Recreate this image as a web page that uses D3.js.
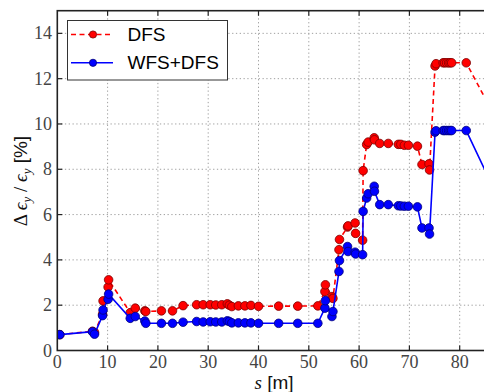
<!DOCTYPE html>
<html>
<head>
<meta charset="utf-8">
<script src="https://cdn.jsdelivr.net/npm/d3@7"></script>
<style>
  body { margin: 0; background: #fff; }
  svg { display: block; }
</style>
</head>
<body>
<div class="container"></div>
<script>
// positions along the line [m]
const sPos = [0.5, 7.0, 7.4, 9.0, 9.1, 10.1, 10.2, 14.5, 15.5, 17.4, 17.6, 20.7, 22.9, 25.0,
  27.7, 29.0, 30.4, 31.5, 32.7, 33.8, 34.2, 34.7, 36.0, 37.3, 38.5, 40.0, 44.0, 47.8, 51.8,
  53.2, 53.3, 54.6, 54.8, 56.0, 56.1, 57.7, 57.8, 59.2, 59.3, 60.7, 60.8, 61.5, 61.8, 63.0, 63.05,
  64.1, 65.8, 67.8, 68.3, 69.0, 69.8, 71.6, 72.5, 73.9, 74.0, 75.1, 75.3, 76.7, 77.0, 77.4,
  77.8, 78.1, 78.4, 81.3, 88.0];
const dfs = [0.70, 0.85, 0.80, 1.60, 2.19, 2.80, 3.12, 1.67, 1.87, 1.75, 1.72, 1.75, 1.75, 1.98,
  2.02, 2.02, 2.02, 2.01, 2.02, 2.06, 2.00, 1.94, 1.97, 1.97, 1.99, 1.95, 1.96, 1.96, 1.97,
  2.60, 2.90, 2.38, 2.30, 4.45, 4.90, 5.45, 5.50, 5.63, 5.17, 4.87, 7.94, 9.09, 9.20, 9.39, 9.30,
  9.14, 9.14, 9.10, 9.10, 9.06, 9.06, 9.02, 8.21, 8.24, 7.97, 12.56, 12.66, 12.70, 12.70, 12.70,
  12.70, 12.70, 12.70, 12.70, 9.90];
const wfsDfs = [0.70, 0.83, 0.72, 1.54, 1.79, 2.26, 2.49, 1.42, 1.50, 1.30, 1.20, 1.20, 1.20, 1.25,
  1.28, 1.26, 1.27, 1.26, 1.26, 1.31, 1.28, 1.22, 1.22, 1.22, 1.22, 1.20, 1.20, 1.20, 1.20,
  1.87, 2.20, 1.50, 1.72, 3.49, 3.97, 4.59, 4.37, 4.34, 4.26, 4.23, 6.14, 6.73, 6.92, 7.25, 7.03,
  6.44, 6.44, 6.39, 6.38, 6.37, 6.37, 6.34, 5.41, 5.41, 5.14, 9.64, 9.70, 9.71, 9.71, 9.71,
  9.71, 9.71, 9.71, 9.71, 6.56];
const xTicks = [0, 10, 20, 30, 40, 50, 60, 70, 80];
const yTicks = [0, 2, 4, 6, 8, 10, 12, 14];

const W = 484, H = 392;
const M = { left: 57.3, top: 10.7, bottom: 350.5 };
const xRight = 57.3 + 5.03 * 90;

const svg = d3.select(".container").append("svg")
  .attr("width", W)
  .attr("height", H);

const x = d3.scaleLinear().domain([0, 90]).range([M.left, xRight]);
const y = d3.scaleLinear().domain([0, 15]).range([M.bottom, M.top]);

svg.append("defs").append("clipPath").attr("id", "plot")
  .append("rect")
  .attr("x", M.left).attr("y", M.top)
  .attr("width", xRight - M.left).attr("height", M.bottom - M.top);

// dotted grid
const grid = svg.append("g").attr("stroke", "#a0a0a0").attr("stroke-width", 1).attr("stroke-dasharray", "1.3,2.5");
grid.selectAll(".gx").data(xTicks.slice(1)).enter().append("line")
  .attr("x1", d => x(d)).attr("x2", d => x(d))
  .attr("y1", M.top).attr("y2", M.bottom);
grid.selectAll(".gy").data(yTicks.slice(1)).enter().append("line")
  .attr("x1", M.left).attr("x2", xRight)
  .attr("y1", d => y(d)).attr("y2", d => y(d));

const series = [
  { values: dfs, color: "red", edge: "#7a0000", dash: "5,3.5" },
  { values: wfsDfs, color: "blue", edge: "#00007a", dash: null }
];

const plot = svg.append("g").attr("clip-path", "url(#plot)");

series.forEach(sr => {
  const pts = sPos.map((s, i) => [s, sr.values[i]]);
  const line = d3.line().x(d => x(d[0])).y(d => y(d[1]));
  plot.append("path")
    .datum(pts)
    .attr("fill", "none")
    .attr("stroke", sr.color)
    .attr("stroke-width", 1.6)
    .attr("stroke-dasharray", sr.dash)
    .attr("d", line);
  plot.append("g")
    .selectAll("circle")
    .data(pts)
    .enter()
    .append("circle")
    .attr("cx", d => x(d[0]))
    .attr("cy", d => y(d[1]))
    .attr("r", 4.3)
    .attr("fill", sr.color)
    .attr("stroke", sr.edge)
    .attr("stroke-width", 0.8);
});

// frame and inward ticks
svg.append("rect")
  .attr("x", M.left).attr("y", M.top)
  .attr("width", xRight - M.left).attr("height", M.bottom - M.top)
  .attr("fill", "none").attr("stroke", "#222").attr("stroke-width", 1.6);

const ticks = svg.append("g").attr("stroke", "#222").attr("stroke-width", 1.2);
xTicks.slice(1).forEach(t => {
  ticks.append("line").attr("x1", x(t)).attr("x2", x(t)).attr("y1", M.bottom).attr("y2", M.bottom - 5);
  ticks.append("line").attr("x1", x(t)).attr("x2", x(t)).attr("y1", M.top).attr("y2", M.top + 5);
});
yTicks.slice(1).forEach(t => {
  ticks.append("line").attr("x1", M.left).attr("x2", M.left + 5).attr("y1", y(t)).attr("y2", y(t));
});

const serif = "'Liberation Serif', 'DejaVu Serif', serif";
const sans = "'Liberation Sans', Arial, sans-serif";

svg.append("g").selectAll("text").data(xTicks).enter().append("text")
  .attr("x", d => x(d)).attr("y", 367.5)
  .attr("text-anchor", "middle")
  .attr("font-family", serif).attr("font-size", 18).attr("fill", "#444")
  .text(d => d);

svg.append("g").selectAll("text").data(yTicks).enter().append("text")
  .attr("x", 52).attr("y", d => y(d) + 6)
  .attr("text-anchor", "end")
  .attr("font-family", serif).attr("font-size", 18).attr("fill", "#444")
  .text(d => d);

// x label
const xl = svg.append("text")
  .attr("x", 274).attr("y", 389)
  .attr("text-anchor", "middle")
  .attr("font-size", 19).attr("fill", "#111");
xl.append("tspan").attr("font-family", serif).attr("font-style", "italic").text("s");
xl.append("tspan").attr("font-family", sans).text(" [m]");

// y label
const yl = svg.append("text")
  .attr("transform", "translate(27,181) rotate(-90)")
  .attr("text-anchor", "middle")
  .attr("font-size", 19).attr("fill", "#111");
yl.append("tspan").attr("font-family", serif).text("Δ ");
yl.append("tspan").attr("font-family", serif).attr("font-style", "italic").text("ϵ");
yl.append("tspan").attr("font-family", serif).attr("font-style", "italic").attr("font-size", 13).attr("dy", 4).text("y");
yl.append("tspan").attr("font-family", serif).attr("dy", -4).text(" / ");
yl.append("tspan").attr("font-family", serif).attr("font-style", "italic").text("ϵ");
yl.append("tspan").attr("font-family", serif).attr("font-style", "italic").attr("font-size", 13).attr("dy", 4).text("y");
yl.append("tspan").attr("font-family", sans).attr("dy", -4).text(" [%]");

// legend
const legendNames = ["DFS", "WFS+DFS"];
const lg = svg.append("g");
lg.append("rect")
  .attr("x", 67.5).attr("y", 20.5).attr("width", 160).attr("height", 59.5)
  .attr("fill", "#fff").attr("stroke", "#333").attr("stroke-width", 1);
legendNames.forEach((name, i) => {
  const sr = series[i];
  const ly = 34.5 + i * 28.3;
  lg.append("line")
    .attr("x1", 71).attr("x2", 113).attr("y1", ly).attr("y2", ly)
    .attr("stroke", sr.color).attr("stroke-width", 1.6)
    .attr("stroke-dasharray", sr.dash);
  lg.append("circle")
    .attr("cx", 93).attr("cy", ly).attr("r", 3.6)
    .attr("fill", sr.color).attr("stroke", sr.edge).attr("stroke-width", 0.8);
  lg.append("text")
    .attr("x", 127.5).attr("y", ly + 6.5)
    .attr("font-family", sans).attr("font-size", 19).attr("fill", "#000")
    .text(name);
});
</script>
</body>
</html>
